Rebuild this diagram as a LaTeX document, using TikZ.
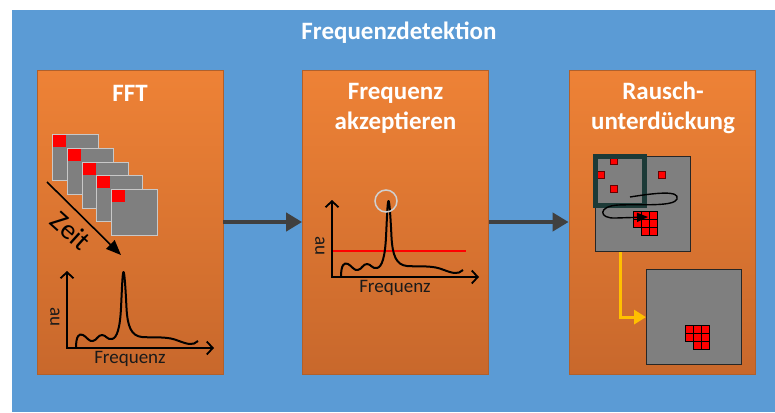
\documentclass[tikz,border=0pt]{standalone}
\usepackage{fontspec}
\setmainfont{Carlito}
\usetikzlibrary{arrows.meta,calc}

\definecolor{bgblue}{HTML}{5B9BD5}
\definecolor{orgtop}{HTML}{EE8236}
\definecolor{orgbot}{HTML}{C8682C}
\definecolor{orgedge}{HTML}{B0602C}
\definecolor{arrowgray}{HTML}{404040}
\definecolor{tilegray}{HTML}{7F7F7F}
\definecolor{tileedge}{HTML}{C8C8C8}
\definecolor{winteal}{HTML}{1C3A37}
\definecolor{gold}{HTML}{FFC000}
\definecolor{ink}{HTML}{1A1A1A}
\definecolor{peakring}{HTML}{D0D0D0}

\tikzset{
  spectrum/.pic={
    % axes with open arrow heads
    \draw[line width=1.8pt, black, {Straight Barb[length=6pt,width=13pt]}-{Straight Barb[length=6pt,width=13pt]}]
      (0,-77) -- (0,0) -- (147,0);
    \node[axlab] (-xl) at (63,11) {Frequenz};
    \node[axlab, rotate=-90] (-yl) at (-12,-31) {au};
    % measured spectrum with one dominant peak
    \draw[line width=2pt, black, line join=round]
      (9,0) .. controls (9,-12) and (12,-15) .. (16,-13)
      .. controls (20,-11) and (22,-6) .. (26,-7)
      .. controls (30,-8) and (31,-13) .. (35,-13)
      .. controls (39,-13) and (40,-8) .. (45,-9)
      .. controls (50,-10) and (53,-20) .. (54,-40)
      .. controls (55,-60) and (55.5,-76) .. (56.5,-76)
      .. controls (57.5,-76) and (58.5,-60) .. (59.5,-40)
      .. controls (60.5,-22) and (64,-12) .. (75,-11)
      .. controls (90,-10) and (100,-12) .. (112,-7)
      .. controls (120,-4) and (126,-2) .. (131,-7);
  }
}

\begin{document}
\begin{tikzpicture}[x=1pt,y=-1pt,
  panel/.style={draw=orgedge, line width=0.8pt, top color=orgtop, bottom color=orgbot,
    minimum width=186pt, minimum height=304pt, inner sep=0pt},
  ptitle/.style={text=white, font=\bfseries\fontsize{25}{30}\selectfont, align=center},
  flow/.style={draw=arrowgray, line width=4pt, -{Triangle[length=16pt,width=18pt]}},
  tile/.style={fill=tilegray, draw=tileedge, line width=1.2pt, minimum size=46pt, inner sep=0pt},
  tilemark/.style={fill=red, minimum width=13pt, minimum height=12pt, inner sep=0pt},
  axlab/.style={text=ink, font=\fontsize{19}{19}\selectfont, inner sep=0pt},
  frame/.style={fill=tilegray, draw=black!85, line width=1.2pt, minimum size=95pt, inner sep=0pt},
  spot/.style={fill=red, draw=black!60!red, line width=0.6pt, minimum size=7pt, inner sep=0pt},
  cell/.style={fill=red, draw=black, line width=0.7pt, minimum size=8pt, inner sep=0pt},
]
\useasboundingbox (0,0) rectangle (775,412);
\fill[white] (0,0) rectangle (775,412);
\fill[bgblue] (12,10) rectangle (775,412);

\node[text=white, font=\bfseries\fontsize{25}{30}\selectfont] (head) at (399,33) {Frequenzdetektion};

% three processing stages
\node[panel] (p1) at (130,222) {};
\node[panel] (p2) at (395.5,222) {};
\node[panel] (p3) at (662,222) {};

\node[ptitle] (t1) at (130,93) {FFT};
\node[ptitle] (t2) at (395.5,108) {Frequenz\\akzeptieren};
\node[ptitle] (t3) at (663,108) {Rausch-\\unterdückung};

\draw[flow] (p1.east) -- (p2.west);
\draw[flow] (p2.east) -- (p3.west);

% stage 1: stack of frames over time
\foreach \i in {0,...,4} {
  \node[tile, anchor=north west] (tile\i) at ({52+14.75*\i},{134+13.75*\i}) {};
  \node[tilemark, anchor=north west] (mark\i) at ([shift={(1,1)}]tile\i.north west) {};
}
\coordinate (z0) at (47,182);
\coordinate (z1) at (121,255);
\draw[line width=1.6pt, -{Triangle[length=15pt,width=12pt]}] (z0) -- (z1);
\node[rotate=-42, font=\fontsize{28}{28}\selectfont, text=black, inner sep=0pt] (zeit) at (71,231) {Zeit};

\pic (g1) at (67,348) {spectrum};

% stage 2: threshold on the spectrum
\draw[red, line width=2pt] (332,251) -- (466,251);
\pic (g2) at (332,277) {spectrum};
\node[draw=peakring, line width=1.5pt, circle, minimum size=22pt, inner sep=0pt] (ring) at (386,201) {};

% stage 3: sliding window noise suppression
\node[frame, anchor=north west] (sq1) at (595,156) {};
\node[spot] (s1) at (613.5,160.5) {};
\node[spot] (s2) at (600.5,174.5) {};
\node[spot] (s3) at (614,188.5) {};
\node[spot] (s4) at (662,174.5) {};
\foreach \r/\c in {0/0,0/1,0/2,1/0,1/1,1/2,2/1,2/2} {
  \node[cell] (ca\r\c) at ({637+8*\c},{215+8*\r}) {};
}
\node[draw=winteal, line width=4.5pt, minimum size=49pt, inner sep=0pt, anchor=north west] (win) at (593,154) {};
\coordinate (loopA) at (630,197);
\coordinate (loopB) at (648,217);
\draw[line width=1.4pt, -{Triangle[length=11pt,width=9pt]}]
  (loopA) .. controls (655,193) and (680,190) .. (677,199)
  .. controls (674,207) and (640,204) .. (618,205)
  .. controls (598,206) and (598,219) .. (616,218) -- (loopB);

\node[frame, anchor=north west] (sq2) at (646,269) {};
\foreach \r/\c in {0/0,0/1,0/2,1/0,1/1,1/2,2/1,2/2} {
  \node[cell] (cb\r\c) at ({689+8*\c},{329+8*\r}) {};
}
\draw[gold, line width=3pt, -{Triangle[length=12pt,width=14pt]}]
  ($(sq1.south west)!0.26!(sq1.south east)$) |- (sq2.west);
\end{tikzpicture}
\end{document}
